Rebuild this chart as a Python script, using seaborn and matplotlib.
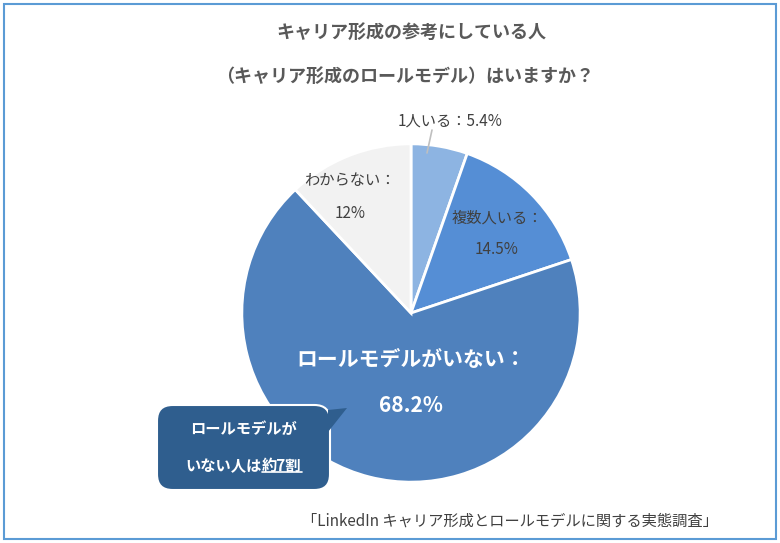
import matplotlib
matplotlib.use("Agg")
import matplotlib.pyplot as plt
import seaborn as sns
from matplotlib.patches import FancyBboxPatch, Polygon, Rectangle
from matplotlib.lines import Line2D

categories = ["1人いる", "複数人いる", "ロールモデルがいない", "わからない"]
values = [5.4, 14.5, 68.2, 12.0]
value_labels = ["5.4%", "14.5%", "68.2%", "12%"]
colors = ["#8DB4E2", "#558ED5", "#4F81BD", "#F2F2F2"]

sns.set_theme(style="white")
plt.rcParams['font.family'] = ['Noto Sans CJK JP', 'DejaVu Sans']

W, H = 780, 543
fig = plt.figure(figsize=(7.8, 5.43), dpi=100)
fig.patch.set_facecolor("white")

def fx(px): return px / W
def fy(py): return 1 - py / H

# frame
fig.patches.append(Rectangle((fx(4), fy(539)), fx(772) - fx(0), (535 - 0) / H,
                             transform=fig.transFigure, fill=False,
                             edgecolor="#5B9BD5", linewidth=1.5))

cx, cy, r = 411, 313, 170
ax = fig.add_axes([fx(cx - r), fy(cy + r), 2 * r / W, 2 * r / H])
ax.pie(values, colors=colors, startangle=90, counterclock=False,
       wedgeprops=dict(edgecolor="white", linewidth=2))
ax.set_aspect("auto")
ax.set_xlim(-1.005, 1.005)
ax.set_ylim(-1.005, 1.005)
ax.axis("off")

grey = "#404040"
fig.text(fx(411), fy(32), "キャリア形成の参考にしている人", ha="center", va="center",
         fontsize=13, fontweight="bold", color="#595959")
fig.text(fx(405), fy(76), "（キャリア形成のロールモデル）はいますか？", ha="center", va="center",
         fontsize=13, fontweight="bold", color="#595959")

fig.text(fx(450), fy(121), f"{categories[0]}：{value_labels[0]}", ha="center", va="center",
         fontsize=11, color=grey)
fig.add_artist(Line2D([fx(432), fx(427)], [fy(130), fy(153)], color="#BFBFBF", lw=1.2))
fig.text(fx(497), fy(218), f"{categories[1]}：", ha="center", va="center", fontsize=11, color=grey)
fig.text(fx(497), fy(250), value_labels[1], ha="center", va="center", fontsize=11, color=grey)
fig.text(fx(350), fy(181), f"{categories[3]}：", ha="center", va="center", fontsize=11, color=grey)
fig.text(fx(350), fy(213), value_labels[3], ha="center", va="center", fontsize=11, color=grey)
fig.text(fx(411), fy(360), f"{categories[2]}：", ha="center", va="center", fontsize=15,
         fontweight="bold", color="white")
fig.text(fx(411), fy(405), value_labels[2], ha="center", va="center", fontsize=15,
         fontweight="bold", color="white")

# callout
box_c = "#2F5E8E"
fig.patches.append(FancyBboxPatch((fx(157), fy(490)), fx(330) - fx(157), (490 - 405) / H,
                                  boxstyle="round,pad=0,rounding_size=0.02",
                                  transform=fig.transFigure, facecolor=box_c,
                                  edgecolor="white", linewidth=1.5, mutation_aspect=W / H))
fig.patches.append(Polygon([(fx(328), fy(410)), (fx(347), fy(408)), (fx(328), fy(432))],
                           closed=True, transform=fig.transFigure, facecolor=box_c,
                           edgecolor="none"))
fig.text(fx(243), fy(429), "ロールモデルが", ha="center", va="center", fontsize=11,
         fontweight="bold", color="white")
fig.text(fx(262), fy(466), "いない人は", ha="right", va="center", fontsize=11,
         fontweight="bold", color="white")
t = fig.text(fx(262), fy(466), "約7割", ha="left", va="center", fontsize=11,
             fontweight="bold", color="white")
fig.canvas.draw()
bb = t.get_window_extent().transformed(fig.transFigure.inverted())
fig.add_artist(Line2D([bb.x0, bb.x1], [bb.y0 + 0.004, bb.y0 + 0.004], color="white", lw=1.2))

fig.text(fx(510), fy(521), "「LinkedIn キャリア形成とロールモデルに関する実態調査」", ha="center",
         va="center", fontsize=11, color=grey)

fig.savefig("out.png", dpi=100)
